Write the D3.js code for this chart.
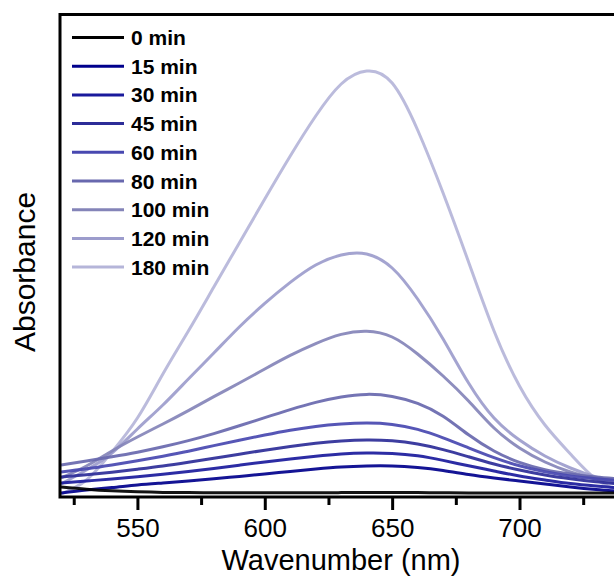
<!DOCTYPE html>
<html>
<head>
<meta charset="utf-8">
<script src="https://cdn.jsdelivr.net/npm/d3@7"></script>
<style>
  html, body { margin: 0; padding: 0; background: #ffffff; }
  svg { display: block; }
</style>
</head>
<body>
<svg id="chart" width="614" height="576"></svg>
<script>
// Wavelength grid (nm) shared by all spectra
const wavelengths = [520, 530, 540, 550, 560, 570, 580, 590, 600, 610, 620, 630,
                     640, 650, 660, 670, 680, 690, 700, 710, 720, 730, 740];

// Absorbance spectra recorded at each reaction time
const abs0   = [0.045, 0.034, 0.026, 0.021, 0.018, 0.017, 0.016, 0.016, 0.016, 0.016, 0.016, 0.017,
                0.018, 0.018, 0.017, 0.016, 0.015, 0.015, 0.015, 0.015, 0.015, 0.015, 0.015];
const abs15  = [0.015, 0.03, 0.042, 0.055, 0.065, 0.075, 0.086, 0.098, 0.11, 0.123, 0.135, 0.145,
                0.15, 0.15, 0.142, 0.127, 0.107, 0.09, 0.075, 0.06, 0.045, 0.032, 0.022];
const abs30  = [0.065, 0.075, 0.085, 0.096, 0.109, 0.123, 0.138, 0.154, 0.17, 0.185, 0.199, 0.21,
                0.215, 0.213, 0.201, 0.178, 0.151, 0.125, 0.10, 0.08, 0.062, 0.05, 0.04];
const abs45  = [0.095, 0.106, 0.119, 0.134, 0.15, 0.169, 0.189, 0.209, 0.229, 0.248, 0.264, 0.275,
                0.28, 0.276, 0.26, 0.232, 0.196, 0.16, 0.13, 0.105, 0.086, 0.071, 0.06];
const abs60  = [0.12, 0.136, 0.155, 0.176, 0.199, 0.224, 0.252, 0.279, 0.305, 0.329, 0.348, 0.36,
                0.365, 0.358, 0.333, 0.291, 0.241, 0.192, 0.151, 0.121, 0.10, 0.086, 0.075];
const abs80  = [0.155, 0.175, 0.196, 0.219, 0.246, 0.277, 0.312, 0.351, 0.392, 0.432, 0.468, 0.495,
                0.508, 0.498, 0.463, 0.399, 0.306, 0.225, 0.168, 0.132, 0.11, 0.095, 0.085];
const abs100 = [0.09, 0.15, 0.225, 0.295, 0.36, 0.427, 0.497, 0.565, 0.635, 0.703, 0.762, 0.808,
                0.824, 0.795, 0.71, 0.6, 0.475, 0.34, 0.24, 0.17, 0.12, 0.085, 0.06];
const abs120 = [0.06, 0.13, 0.215, 0.335, 0.455, 0.585, 0.715, 0.845, 0.963, 1.068, 1.155, 1.205,
                1.21, 1.14, 0.985, 0.785, 0.565, 0.39, 0.28, 0.20, 0.14, 0.095, 0.065];
const abs180 = [0.01, 0.08, 0.22, 0.39, 0.61, 0.825, 1.045, 1.265, 1.485, 1.70, 1.90, 2.06,
                2.125, 2.065, 1.83, 1.515, 1.17, 0.825, 0.55, 0.355, 0.21, 0.085, 0.02];

const seriesLabels = ["0 min", "15 min", "30 min", "45 min", "60 min",
                      "80 min", "100 min", "120 min", "180 min"];
const seriesValues = [abs0, abs15, abs30, abs45, abs60, abs80, abs100, abs120, abs180];
const seriesColors = ["#000000", "#00008c", "#1a1a9c", "#2d2d98", "#4848b0",
                      "#6868ae", "#8484b8", "#9c9ccc", "#b5b5d9"];

const xTickValues = [525, 550, 575, 600, 625, 650, 675, 700, 725];
const xTickLabels = ["", "550", "", "600", "", "650", "", "700", ""];
const xTitle = "Wavenumber (nm)";
const yTitle = "Absorbance";

// Layout
const plot = { left: 60, top: 14.5, right: 660, bottom: 497 };
const FONT = "'Liberation Sans', Arial, Helvetica, sans-serif";

const svg = d3.select("#chart");

const x = d3.scaleLinear().domain([520, 740]).range([61, 621.4]);
const y = d3.scaleLinear().domain([0, 2.41]).range([496, 14]);

svg.append("defs").append("clipPath").attr("id", "plot-clip")
  .append("rect")
  .attr("x", plot.left + 1).attr("y", plot.top + 1)
  .attr("width", plot.right - plot.left - 2)
  .attr("height", plot.bottom - plot.top - 2);

// Spectra: longest reaction time drawn first so the darker curves sit on top
const line = d3.line()
  .x((d, i) => x(wavelengths[i]))
  .y(d => y(d))
  .curve(d3.curveNatural);

const curves = svg.append("g").attr("clip-path", "url(#plot-clip)");
const order = d3.range(seriesValues.length).reverse();
curves.selectAll("path")
  .data(order)
  .join("path")
  .attr("d", i => line(seriesValues[i]))
  .attr("fill", "none")
  .attr("stroke", i => seriesColors[i])
  .attr("stroke-width", 3)
  .attr("stroke-opacity", 0.92)
  .attr("stroke-linejoin", "round");

// Bottom axis with long major and short minor ticks
const xAxis = d3.axisBottom(x)
  .tickValues(xTickValues)
  .tickFormat((d, i) => xTickLabels[i])
  .tickSizeOuter(0);

const gx = svg.append("g")
  .attr("transform", `translate(0,${plot.bottom})`)
  .call(xAxis);
gx.select(".domain").remove();
gx.selectAll(".tick line")
  .attr("stroke", "#000")
  .attr("stroke-width", 3)
  .attr("y2", (d, i) => xTickLabels[i] ? 13 : 8);
gx.selectAll(".tick text")
  .attr("y", 40)
  .attr("dy", null)
  .attr("fill", "#000")
  .style("font-family", FONT)
  .style("font-size", "26px");

// Plot frame
svg.append("rect")
  .attr("x", plot.left).attr("y", plot.top)
  .attr("width", plot.right - plot.left)
  .attr("height", plot.bottom - plot.top)
  .attr("fill", "none")
  .attr("stroke", "#000")
  .attr("stroke-width", 3);

// Axis titles
svg.append("text")
  .attr("x", 341).attr("y", 570)
  .attr("text-anchor", "middle")
  .style("font-family", FONT)
  .style("font-size", "29px")
  .attr("fill", "#000")
  .text(xTitle);

svg.append("text")
  .attr("transform", "translate(35,272) rotate(-90)")
  .attr("text-anchor", "middle")
  .style("font-family", FONT)
  .style("font-size", "30px")
  .attr("fill", "#000")
  .text(yTitle);

// Legend
const legend = svg.append("g");
const rows = legend.selectAll("g")
  .data(seriesLabels)
  .join("g")
  .attr("transform", (d, i) => `translate(0,${37.5 + i * 28.7})`);
rows.append("line")
  .attr("x1", 72).attr("x2", 124)
  .attr("y1", 0).attr("y2", 0)
  .attr("stroke", (d, i) => seriesColors[i])
  .attr("stroke-width", 3);
rows.append("text")
  .attr("x", 131).attr("y", 7.5)
  .style("font-family", FONT)
  .style("font-size", "21px")
  .style("font-weight", "bold")
  .attr("fill", "#000")
  .text(d => d);
</script>
</body>
</html>
